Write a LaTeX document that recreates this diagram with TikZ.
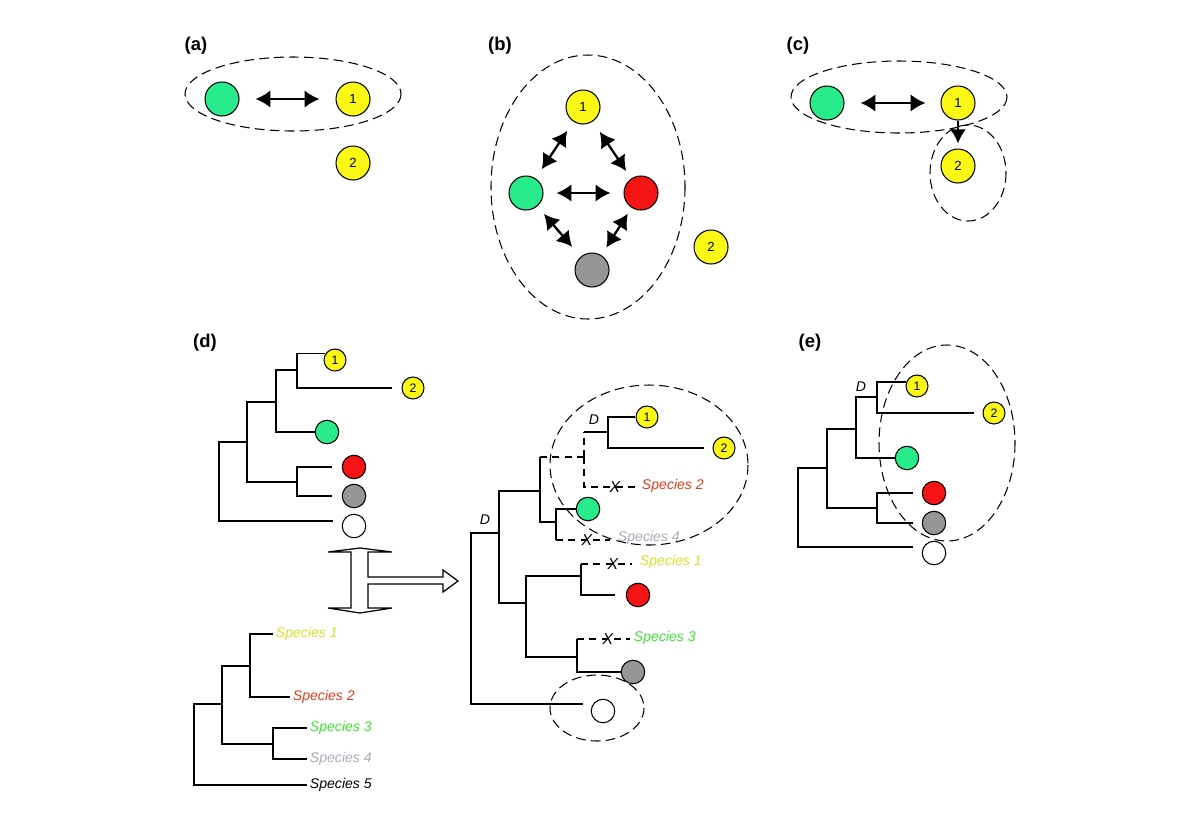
\documentclass[tikz,border=0pt]{standalone}
\usepackage{fontspec}
\setmainfont{Liberation Sans}
\usetikzlibrary{arrows.meta,calc,positioning}
\definecolor{leafgreen}{RGB}{40,236,140}
\definecolor{leafyellow}{RGB}{250,248,20}
\definecolor{leafred}{RGB}{245,20,20}
\definecolor{leafgray}{RGB}{150,150,150}
\definecolor{spyellow}{RGB}{212,226,40}
\definecolor{spred}{RGB}{226,60,30}
\definecolor{spgreen}{RGB}{60,226,50}
\definecolor{spgray}{RGB}{170,170,186}

\begin{document}
\begin{tikzpicture}[x=0.02cm,y=-0.02cm]

        % Setup the styles
        \tikzset{leafbig/.style={circle,draw,line width=0.6pt,minimum size=0.68cm,
                                 inner sep=0pt,font=\fontsize{7.5}{8}\selectfont},
                 leafsmall/.style={circle,draw,line width=0.6pt,minimum size=0.47cm,
                                   inner sep=0pt,font=\fontsize{7}{8}\selectfont},
                 leaftiny/.style={leafsmall,minimum size=0.44cm},
                 group/.style={line width=0.6pt,dash pattern=on 5.5pt off 3pt},
                 branch/.style={line width=0.85pt},
                 lost/.style={line width=0.85pt,dash pattern=on 4pt off 3pt},
                 panel/.style={font=\bfseries\fontsize{10.5}{12}\selectfont},
                 link/.style={line width=1.3pt,<->,>={Latex[length=8.5pt,width=10pt]}},
                 sptext/.style={anchor=west,inner sep=1.5pt,font=\itshape\fontsize{8}{9}\selectfont},
                 xmark/.style={inner sep=0pt,font=\itshape\fontsize{9}{9}\selectfont},
                 dlabel/.style={font=\itshape\fontsize{8}{9}\selectfont}}

        \useasboundingbox (0,0) rectangle (1200,823);

        % (a)
        \node[panel] (la) at (196,46) {(a)};
        \node[leafbig,fill=leafgreen] (ga) at (222,99) {};
        \node[leafbig,fill=leafyellow] (ya1) at (353,99) {1};
        \node[leafbig,fill=leafyellow] (ya2) at (353,163) {2};
        \draw[group] (293,94) ellipse [x radius=108, y radius=37];
        \draw[link,shorten >=0.32cm,shorten <=0.32cm] (ga) -- (ya1);

        % (b)
        \node[panel] (lb) at (500,46) {(b)};
        \node[leafbig,fill=leafyellow] (yb1) at (583,107) {1};
        \node[leafbig,fill=leafgreen] (gb) at (526,193) {};
        \node[leafbig,fill=leafred] (rb) at (641,193) {};
        \node[leafbig,fill=leafgray] (kb) at (592,270) {};
        \node[leafbig,fill=leafyellow] (yb2) at (711,247) {2};
        \draw[group] (588,187) ellipse [x radius=97, y radius=132];
        \draw[link,shorten >=0.22cm,shorten <=0.22cm] (gb) -- (yb1);
        \draw[link,shorten >=0.18cm,shorten <=0.25cm] (yb1) -- (rb);
        \draw[link,shorten >=0.26cm,shorten <=0.26cm] (gb) -- (rb);
        \draw[link,shorten >=0.26cm,shorten <=0.2cm] (gb) -- (kb);
        \draw[link,shorten >=0.18cm,shorten <=0.14cm] (rb) -- (kb);

        % (c)
        \node[panel] (lc) at (798,46) {(c)};
        \node[leafbig,fill=leafgreen] (gc) at (827,103) {};
        \node[leafbig,fill=leafyellow] (yc1) at (958,103) {1};
        \node[leafbig,fill=leafyellow] (yc2) at (958,166) {2};
        \draw[group] (899,97) ellipse [x radius=108, y radius=36];
        \draw[group] (968,173) ellipse [x radius=38, y radius=48];
        \draw[link,shorten >=0.3cm,shorten <=0.32cm] (gc) -- (yc1);
        \draw[line width=1.3pt,-{Latex[length=8pt,width=9pt]},shorten >=0.1cm] (yc1) -- (yc2);

        % (d) gene tree
        \node[panel] (ld) at (205,343) {(d)};
        \node[leaftiny,fill=leafyellow] (y11) at (335,360) {1};
        \node[leaftiny,fill=leafyellow] (y12) at (413,388) {2};
        \node[leafsmall,fill=leafgreen] (g1) at (327,432) {};
        \node[leafsmall,fill=leafred] (r1) at (354,467) {};
        \node[leafsmall,fill=leafgray] (k1) at (354,496) {};
        \node[leafsmall,fill=white] (w1) at (354,526) {};
        \coordinate (t1a) at (297,370);
        \coordinate (t1b) at (276,402);
        \coordinate (t1c) at (247,442);
        \coordinate (t1e) at (297,482);
        \coordinate (t1r) at (219,480);
        \draw[branch] (t1a) |- (y11.147);
        \draw[branch,shorten >=0.18cm] (t1a) |- (y12.west);
        \draw[branch] (t1b) |- (t1a);
        \draw[branch] (t1b) |- (g1.west);
        \draw[branch] (t1c) |- (t1b);
        \draw[branch] (t1c) |- (t1e);
        \draw[branch,shorten >=0.2cm] (t1e) |- (r1.west);
        \draw[branch,shorten >=0.2cm] (t1e) |- (k1.west);
        \draw[branch] (t1r) |- (t1c);
        \draw[branch,shorten >=0.2cm] (t1r) |- (w1.155);

        % hollow arrow
        \draw[line width=0.7pt,fill=white] (360,548) -- (392,552) -- (368,552) -- (368,577)
            -- (443,577) -- (443,570) -- (458,581) -- (443,592) -- (443,584) -- (368,584)
            -- (368,608) -- (392,608) -- (360,613) -- (328,608) -- (351,608) -- (351,552)
            -- (328,552) -- cycle;

        % (d) species tree
        \node[sptext,text=spyellow] (sp1) at (273,634) {Species 1};
        \node[sptext,text=spred] (sp2) at (290,697) {Species 2};
        \node[sptext,text=spgreen] (sp3) at (307,728) {Species 3};
        \node[sptext,text=spgray] (sp4) at (307,759) {Species 4};
        \node[sptext] (sp5) at (307,785) {Species 5};
        \coordinate (t2p) at (250,666);
        \coordinate (t2q) at (273,744);
        \coordinate (t2m) at (222,704);
        \coordinate (t2r) at (194,744);
        \draw[branch] (t2p) |- (sp1.west);
        \draw[branch] (t2p) |- (sp2.west);
        \draw[branch] (t2q) |- (sp3.west);
        \draw[branch] (t2q) |- (sp4.west);
        \draw[branch] (t2m) |- (t2p);
        \draw[branch] (t2m) |- (t2q);
        \draw[branch] (t2r) |- (t2m);
        \draw[branch] (t2r) |- (sp5.west);

        % (d) reconciled tree
        \node[leaftiny,fill=leafyellow] (y31) at (647,417) {1};
        \node[leaftiny,fill=leafyellow] (y32) at (724,448) {2};
        \node[leafsmall,fill=leafgreen] (g3) at (588,509) {};
        \node[leafsmall,fill=leafred] (r3) at (638,595) {};
        \node[leafsmall,fill=leafgray] (k3) at (633,672) {};
        \node[leafsmall,fill=white] (w3) at (603,711) {};
        \coordinate (t3r) at (471,618);
        \coordinate (t3d) at (499,533);
        \coordinate (t3a) at (540,491);
        \coordinate (t3b) at (584,457);
        \coordinate (t3dd) at (608,432);
        \coordinate (t3c) at (556,522);
        \coordinate (t3f) at (526,603);
        \coordinate (t3s) at (581,576);
        \coordinate (t3t) at (577,657);
        \coordinate (l32) at (635,487);
        \coordinate (l34) at (610,540);
        \coordinate (l31) at (632,564);
        \coordinate (l33) at (630,639);
        \draw[branch] (t3dd) |- (y31.west);
        \draw[branch,shorten >=0.16cm] (t3dd) |- (y32.west);
        \draw[branch] (t3b |- t3dd) -- (t3dd);
        \draw[lost] (t3b) -- (t3b |- t3dd);
        \draw[lost] (t3b) |- (l32);
        \draw[branch] (t3a) -- (t3a |- t3b);
        \draw[lost] (t3a |- t3b) -- (t3b);
        \draw[branch] (t3a) |- (t3c);
        \draw[branch] (t3c) |- (g3.west);
        \draw[branch] (t3c) -- (t3c |- l34);
        \draw[lost] (t3c |- l34) -- (l34);
        \draw[branch] (t3d) |- (t3a);
        \draw[branch] (t3d) |- (t3f);
        \draw[branch] (t3f) |- (t3s);
        \draw[branch] (t3f) |- (t3t);
        \draw[branch] (t3s) -- (t3s |- l31);
        \draw[lost] (t3s |- l31) -- (l31);
        \draw[branch,shorten >=0.22cm] (t3s) |- (r3.west);
        \draw[branch] (t3t) -- (t3t |- l33);
        \draw[lost] (t3t |- l33) -- (l33);
        \draw[branch] (t3t) |- (k3.west);
        \draw[branch] (t3r) |- (t3d);
        \draw[branch,shorten >=0.2cm] (t3r) |- (w3.144);
        \node[xmark] (x32) at (615,487) {X};
        \node[xmark] (x34) at (587,540) {X};
        \node[xmark] (x31) at (613,564) {X};
        \node[xmark] (x33) at (608,639) {X};
        \node[sptext,text=spred] (s32) at (639,486) {Species 2};
        \node[sptext,text=spgray] (s34) at (615,538) {Species 4};
        \node[sptext,text=spyellow] (s31) at (637,562) {Species 1};
        \node[sptext,text=spgreen] (s33) at (631,638) {Species 3};
        \node[dlabel] (dd3) at (594,420) {D};
        \node[dlabel] (dr3) at (485,520) {D};
        \draw[group] (649,465) ellipse [x radius=99, y radius=80];
        \draw[group] (597,708) ellipse [x radius=47, y radius=33];

        % (e)
        \node[panel] (le) at (810,343) {(e)};
        \node[leaftiny,fill=leafyellow] (y1e) at (917,386) {1};
        \node[leaftiny,fill=leafyellow] (y2e) at (994,413) {2};
        \node[leafsmall,fill=leafgreen] (ge) at (907,458) {};
        \node[leafsmall,fill=leafred] (re) at (934,493) {};
        \node[leafsmall,fill=leafgray] (ke) at (934,523) {};
        \node[leafsmall,fill=white] (we) at (934,553) {};
        \coordinate (tde) at (877,397);
        \coordinate (tbe) at (856,429);
        \coordinate (tce) at (827,468);
        \coordinate (tee) at (877,508);
        \coordinate (tre) at (798,508);
        \draw[branch] (tde) |- (y1e.159);
        \draw[branch,shorten >=0.16cm] (tde) |- (y2e.west);
        \draw[branch] (tbe) |- (tde);
        \draw[branch] (tbe) |- (ge.west);
        \draw[branch] (tce) |- (tbe);
        \draw[branch] (tce) |- (tee);
        \draw[branch,shorten >=0.18cm] (tee) |- (re.west);
        \draw[branch,shorten >=0.18cm] (tee) |- (ke.west);
        \draw[branch] (tre) |- (tce);
        \draw[branch,shorten >=0.21cm] (tre) |- (we.150);
        \node[dlabel] (de) at (861,387) {D};
        \draw[group] (947,443) ellipse [x radius=68, y radius=98];

    \end{tikzpicture}
\end{document}
